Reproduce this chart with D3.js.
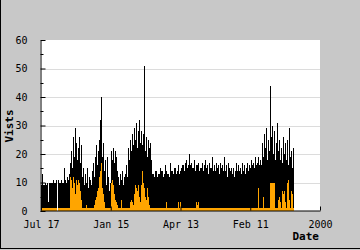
<!DOCTYPE html>
<html><head><meta charset="utf-8">
<script src="https://cdn.jsdelivr.net/npm/d3@7"></script>
<style>
html,body{margin:0;padding:0;background:#c8c8c8;}
svg{display:block;}
text{font-family:"DejaVu Sans Mono",monospace;}
</style></head>
<body>
<svg id="chart" width="360" height="250"></svg>
<script>
const xTickLabels = ["Jul 17","Jan 15","Apr 13","Feb 11","2000"];
const yTickValues = [0,10,20,30,40,50,60];
const yMinorTicks = [5,15,25,35,45,55];
const xTitle = "Date";
const yTitle = "Vists";
const totalSlots = 279;

const visits = [
 9,13,9,9,10,9,10,3,10,10,
 10,10,11,10,10,11,0,11,10,10,
 11,10,10,15,11,10,12,11,13,17,
 21,15,26,19,29,24,18,22,26,17,
 23,12,15,9,13,10,15,8,12,11,
 9,14,17,12,19,23,16,21,25,32,
 40,19,24,14,18,9,19,12,7,10,
 21,18,22,17,21,19,14,12,9,13,
 11,14,9,12,13,16,12,22,18,25,
 21,27,23,29,25,31,22,28,32,24,
 28,23,27,51,21,26,19,25,22,24,
 18,13,13,12,14,14,12,13,13,15,
 14,14,12,13,16,14,13,13,12,17,
 14,14,13,15,15,13,14,16,13,14,
 15,16,16,14,17,18,15,16,20,16,
 17,15,15,18,14,16,16,17,14,15,
 15,17,14,16,18,15,16,13,17,15,
 15,19,14,16,14,17,15,16,13,17,
 15,16,14,19,14,16,12,17,15,14,
 15,13,15,12,14,17,14,16,14,15,
 13,17,14,16,13,15,17,14,16,15,
 18,16,17,15,19,16,17,19,16,18,
 16,24,19,27,22,29,18,25,21,44,
 26,30,20,28,18,24,31,21,25,18,
 22,17,26,20,24,18,25,16,29,19,
 21,15,22
];
const orangeVals = [
 1,1,1,1,1,1,1,1,1,1,
 1,1,1,1,1,1,0,1,1,1,
 1,1,1,1,1,1,1,1,1,12,
 11,8,12,10,6,11,9,11,10,7,
 4,1,1,1,1,2,1,1,1,1,
 1,1,1,2,4,5,7,8,12,14,
 17,8,6,3,1,1,1,1,1,1,
 10,11,9,6,4,3,2,1,1,1,
 4,1,1,1,1,1,1,1,1,3,
 4,3,2,6,9,8,7,9,5,3,
 9,14,10,8,5,4,8,5,2,1,
 1,1,1,1,1,1,1,1,1,1,
 1,1,1,1,1,3,1,1,1,1,
 1,1,1,1,1,1,1,3,1,3,
 1,1,1,1,1,1,1,1,1,1,
 1,1,1,1,1,3,2,3,1,1,
 1,1,1,1,1,1,1,1,1,1,
 1,1,1,1,1,1,1,1,1,1,
 1,1,1,1,1,1,1,1,1,1,
 1,1,1,1,1,1,1,1,1,1,
 1,1,1,1,1,1,1,1,1,1,
 1,1,1,1,1,1,1,8,1,1,
 1,1,5,1,1,1,1,1,1,10,
 10,10,10,10,1,1,1,4,5,3,
 1,7,6,7,3,1,10,11,4,1,
 7,6,1
];

const svg = d3.select("#chart");
const L = 41, R = 320, T = 40, B = 211;
const x = d3.scaleLinear().domain([0, totalSlots]).range([L, R]);
const y = d3.scaleLinear().domain([0, 60]).range([B, T]);

// frame edges
svg.append("line").attr("x1",0.5).attr("x2",0.5).attr("y1",0).attr("y2",249).attr("stroke","#000");
svg.append("line").attr("x1",0).attr("x2",360).attr("y1",248.5).attr("y2",248.5).attr("stroke","#000");

// plot area
svg.append("rect").attr("x", L-1).attr("y", T).attr("width", R-L+1).attr("height", B-T).attr("fill","#fff");

// gridlines
svg.append("g").selectAll("line").data(yTickValues.filter(d=>d>0 && d<60)).join("line")
  .attr("x1", L).attr("x2", R).attr("y1", d=>Math.round(y(d))+0.5).attr("y2", d=>Math.round(y(d))+0.5)
  .attr("stroke","#dcdcdc").attr("stroke-width",1);

// bars
svg.append("g").attr("shape-rendering","crispEdges").selectAll("rect").data(visits).join("rect")
  .attr("x",(d,i)=>x(i)).attr("width",1)
  .attr("y",d=>y(d)).attr("height",d=>y(0)-y(d)).attr("fill","#000");
svg.append("g").attr("shape-rendering","crispEdges").selectAll("rect").data(orangeVals).join("rect")
  .attr("x",(d,i)=>x(i)).attr("width",1)
  .attr("y",d=>y(d)).attr("height",d=>y(0)-y(d)).attr("fill","#ffa500");

// y axis
const yAxis = d3.axisLeft(y).tickValues(yTickValues).tickSize(-5).tickPadding(13).tickSizeOuter(0);
const gy = svg.append("g").attr("transform",`translate(${L-0.5},0)`).call(yAxis);
gy.select(".domain").attr("stroke","#000");
gy.selectAll("text").attr("font-size",10).attr("font-family","DejaVu Sans Mono").attr("fill","#000");
gy.append("g").selectAll("line").data(yMinorTicks).join("line")
  .attr("x1",0).attr("x2",3).attr("y1",d=>Math.round(y(d))+0.5).attr("y2",d=>Math.round(y(d))+0.5).attr("stroke","#000");

// x axis
const xAxis = d3.axisBottom(x).tickValues(d3.range(5).map(k=>k*totalSlots/4))
  .tickFormat((d,i)=>xTickLabels[i]).tickSize(-4).tickPadding(10).tickSizeOuter(0);
const gx = svg.append("g").attr("transform",`translate(0,${B-0.5})`).call(xAxis);
gx.select(".domain").attr("stroke","#000");
gx.selectAll("text").attr("font-size",10).attr("font-family","DejaVu Sans Mono").attr("fill","#000");

// titles
svg.append("text").attr("x", 319).attr("y", 240).attr("text-anchor","end")
  .attr("font-size",11).attr("font-weight","bold").text(xTitle);
svg.append("text").attr("transform","translate(13,126) rotate(-90)").attr("text-anchor","middle")
  .attr("font-size",11).attr("font-weight","bold").text(yTitle);
</script>
</body></html>
